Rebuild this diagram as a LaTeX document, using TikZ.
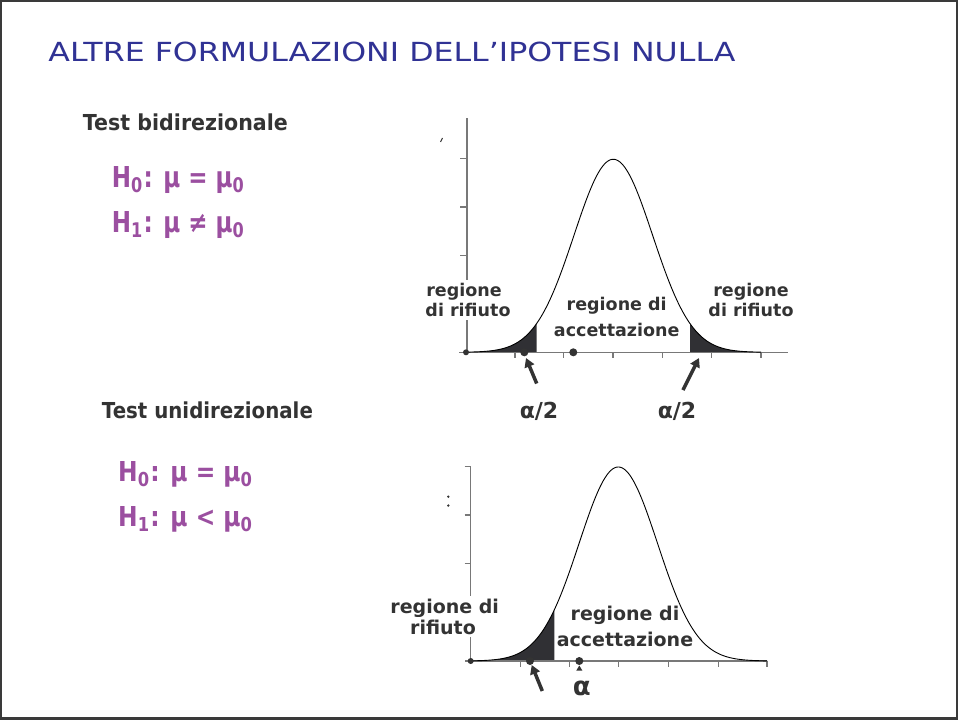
\documentclass[tikz,border=0pt]{standalone}
\usepackage{fontspec}
\usepackage{graphicx}
\setmainfont{DejaVu Sans}
\usetikzlibrary{arrows.meta}
\definecolor{framecol}{RGB}{58,58,58}
\definecolor{titleblue}{RGB}{48,50,148}
\definecolor{textgray}{RGB}{51,51,51}
\definecolor{hyppurple}{RGB}{155,79,160}
\definecolor{tailcol}{RGB}{48,48,52}
\definecolor{axisgray}{RGB}{120,120,120}
\begin{document}
\begin{tikzpicture}[x=1pt,y=-1pt,
  declare function={gtop(\t)=352.3-193*exp(-0.5*((\t-613.3)/39.3)*((\t-613.3)/39.3));
                    gbot(\t)=661-194*exp(-0.5*((\t-618.3)/39.2)*((\t-618.3)/39.2));},
  lbl/.style={font=\bfseries\fontsize{17.5}{20}\selectfont, text=textgray, inner sep=0pt, anchor=base},
  lblb/.style={font=\bfseries\fontsize{19}{22}\selectfont, text=textgray, inner sep=0pt, anchor=base},
  wbg/.style={fill=white, inner xsep=2pt, inner ysep=3pt},
  axisline/.style={draw=axisgray, line width=1.2pt},
  curveline/.style={draw=black, line width=0.9pt},
  ptr/.style={draw=textgray, line width=3.5pt, -{Triangle[length=9pt,width=10pt]}},
  dotmark/.style={circle, fill=textgray, inner sep=0pt, minimum size=8pt},
  hyp/.style={text=hyppurple, inner sep=0pt, anchor=base west, font=\bfseries},
  head/.style={text=textgray, inner sep=0pt, anchor=base west, font=\bfseries},
  alab/.style={text=textgray, inner sep=0pt, anchor=base, font=\bfseries\fontsize{22}{26}\selectfont},
]
% frame
\fill[framecol] (0,0) rectangle (958,720);
\fill[white] (2,2) rectangle (956,717);
\useasboundingbox (0,0) rectangle (958,720);

% title
\node[inner sep=0pt, anchor=base west, text=titleblue] (title) at (48.3,61.7)
  {\resizebox{687pt}{19.5pt}{ALTRE FORMULAZIONI DELL’IPOTESI NULLA}};

% left texts
\node[head] (tb) at (82.7,130) {\resizebox{205pt}{16.7pt}{Test bidirezionale}};
\node[hyp] (h0a) at (111.7,187.3) {\resizebox{133pt}{21pt}{H\textsubscript{0}: μ = μ\textsubscript{0}}};
\node[hyp] (h1a) at (111.7,232.7) {\resizebox{133pt}{21pt}{H\textsubscript{1}: μ ≠ μ\textsubscript{0}}};
\node[head] (tu) at (101.7,418.3) {\resizebox{211pt}{16.7pt}{Test unidirezionale}};
\node[hyp] (h0b) at (118,481.7) {\resizebox{135pt}{20pt}{H\textsubscript{0}: μ = μ\textsubscript{0}}};
\node[hyp] (h1b) at (118,526.7) {\resizebox{135pt}{20pt}{H\textsubscript{1}: μ < μ\textsubscript{0}}};

%%%%%%%% top chart
\fill[tailcol] (467,352.3) -- plot[domain=467:536.7,samples=60] (\x,{gtop(\x)}) -- (536.7,352.3) -- cycle;
\fill[tailcol] (690,352.3) -- plot[domain=690:761,samples=60] (\x,{gtop(\x)}) -- (761,352.3) -- cycle;
\draw[axisline] (467,118) -- (467,352.3);
\draw[axisline] (459,352.3) -- (788,352.3);
\foreach \yy in {158.3,207,255.7,304.4} \draw[axisline] (460,\yy) -- (467,\yy);
\foreach \xx in {515,563.5,613,662.3,711.7,761} \draw[axisline] (\xx,352.3) -- (\xx,357.5);
\draw[curveline] plot[domain=467:761,samples=200] (\x,{gtop(\x)});
\draw[line width=1pt, textgray] (440.5,142) -- (442.5,138);

\node[lbl,wbg] (rl1) at (464,296.7) {regione};
\node[lbl,wbg] (rl2) at (468,316.7) {di rifiuto};
\node[lbl] (ac1) at (616.7,310.7) {regione di};
\node[lbl] (ac2) at (616.7,336) {accettazione};
\node[lbl] (rr1) at (751,296.7) {regione};
\node[lbl] (rr2) at (751,316.7) {di rifiuto};

\node[dotmark, minimum size=6pt] (o1) at (466,352.3) {};
\node[dotmark] (d1) at (524.3,352.3) {};
\node[dotmark] (d2) at (573.3,352.3) {};

\node[alab] (al1) at (539,418.3) {α/2};
\node[alab] (al2) at (677,418.3) {α/2};
\coordinate (a1s) at (536.7,383.5);
\coordinate (a1e) at (526,358);
\coordinate (a2s) at (683,390);
\coordinate (a2e) at (699,358);
\draw[ptr] (a1s) -- (a1e);
\draw[ptr] (a2s) -- (a2e);

%%%%%%%% bottom chart
\fill[tailcol] (470.7,661) -- plot[domain=470.7:554.3,samples=60] (\x,{gbot(\x)}) -- (554.3,661) -- cycle;
\draw[axisline] (470.7,466.7) -- (470.7,661);
\draw[axisline] (465,661) -- (767,661);
\foreach \yy in {466.7,515,563.3,612} \draw[axisline] (464.5,\yy) -- (470.7,\yy);
\foreach \xx in {520.7,569.5,618.3,668.3,718.3,767} \draw[axisline] (\xx,661) -- (\xx,666.5);
\draw[curveline] plot[domain=470.7:767,samples=200] (\x,{gbot(\x)});
\fill[textgray] (448.3,496.7) circle (1.3);
\fill[textgray] (448.3,505.5) circle (1.3);

\node[lblb,wbg] (bl1) at (444.7,613.3) {regione di};
\node[lblb,wbg] (bl2) at (443,634) {rifiuto};
\node[lblb] (bac1) at (625,620) {regione di};
\node[lblb] (bac2) at (625,646.7) {accettazione};

\node[dotmark, minimum size=6pt] (o2) at (470.7,661) {};
\node[dotmark] (d3) at (530,661) {};
\node[dotmark] (d4) at (579.3,661) {};
\fill[textgray] (576.3,670.5) -- (582.3,670.5) -- (579.3,665.5) -- cycle;

\node[alab, font=\bfseries\fontsize{26}{30}\selectfont] (alb) at (581.7,695) {α};
\coordinate (a3s) at (542.3,691);
\coordinate (a3e) at (531.7,665);
\draw[ptr] (a3s) -- (a3e);
\end{tikzpicture}
\end{document}
